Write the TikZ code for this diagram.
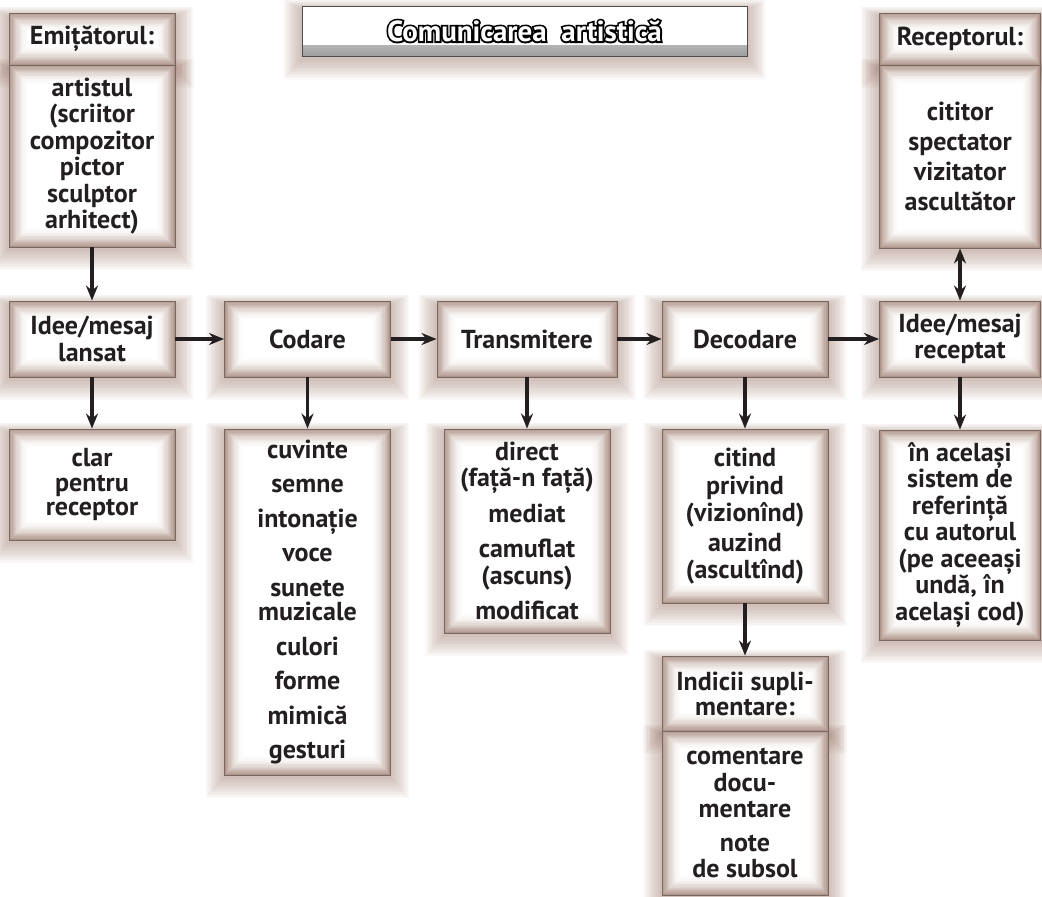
\documentclass[tikz,border=0pt]{standalone}
\usepackage{fontspec}
\setmainfont{PT Sans}
\usetikzlibrary{calc,backgrounds,arrows.meta}

\definecolor{glowbrown}{RGB}{176,148,137}
\definecolor{linegray}{RGB}{118,104,98}
\definecolor{shadebrown}{RGB}{140,98,82}
\definecolor{inkblack}{RGB}{35,31,32}

% outlined title letters: stroked copy under a white filled copy
\newcommand\hollowtext[1]{%
  \rlap{\special{pdf:literal direct 1 Tr 3.6 w 0 0 0 RG}#1\special{pdf:literal direct 0 Tr}}%
  \textcolor{white}{#1}}

\tikzset{
  box/.style={draw=linegray, line width=0.9pt, inner sep=0pt, align=center,
    text=inkblack, font=\fontsize{26}{26.5}\selectfont\bfseries,
    path picture={
      \foreach \i [evaluate=\i as \p using {int(100*(1-\i/17)^2)}] in {0,...,16}
        \fill[glowbrown!\p!white]
          ($(path picture bounding box.south west)+(\i*1.2pt,\i*1.2pt)$) rectangle
          ($(path picture bounding box.north east)-(\i*1.2pt,\i*1.2pt)$);
    }},
  titlebox/.style={draw=black!70, line width=1pt, fill=white, inner sep=0pt,
    font=\fontsize{29}{30}\selectfont\bfseries,
    path picture={
      \shade[top color=white, bottom color=black!38]
        (path picture bounding box.south west) rectangle
        ($(path picture bounding box.south east)+(0,11pt)$);
    }},
  arr/.style={->, line width=3.2pt, draw=inkblack},
}

\begin{document}
\begin{tikzpicture}[x=1pt, y=-1pt, >={Stealth[length=15pt,width=12pt]}]
    \useasboundingbox (0,0) rectangle (1042,897);

    % Title
    \node[titlebox, minimum width=445pt, minimum height=50pt] (title) at (524.5,31)
        {\hollowtext{Comunicarea\ \ artistică}};

    % Top boxes
    \node[box, minimum width=166pt, minimum height=52pt] (emith) at (92,39) {Emițătorul:};
    \node[box, minimum width=166pt, minimum height=182pt] (emitb) at (92,156)
        {artistul\\(scriitor\\compozitor\\pictor\\sculptor\\arhitect)};

    \node[box, minimum width=161pt, minimum height=52pt] (recvh) at (960,39) {Receptorul:};
    \node[box, minimum width=161pt, minimum height=183pt] (recvb) at (960,156.5)
        {cititor\\[3.5pt]spectator\\[3.5pt]vizitator\\[3.5pt]ascultător};

    % Main row
    \node[box, minimum width=166pt, minimum height=76pt] (lansat) at (92,339) {Idee/mesaj\\lansat};
    \node[box, minimum width=166pt, minimum height=76pt] (codare) at (307.5,339) {Codare};
    \node[box, minimum width=180pt, minimum height=76pt] (transm) at (527,339) {Transmitere};
    \node[box, minimum width=166pt, minimum height=76pt] (decod) at (745,339) {Decodare};
    \node[box, minimum width=161pt, minimum height=76pt] (recept) at (960,339) {Idee/mesaj\\receptat};

    % Details
    \node[box, minimum width=166pt, minimum height=111pt] (clar) at (92,484.5)
        {clar\\[-2pt]pentru\\[-2pt]receptor};
    \node[box, minimum width=166pt, minimum height=346pt] (cuvinte) at (307.5,602)
        {cuvinte\\[8pt]semne\\[8pt]intonație\\[8pt]voce\\[8pt]sunete\\[-2pt]muzicale\\[8pt]culori\\[8pt]forme\\[8pt]mimică\\[8pt]gesturi};
    \node[box, minimum width=166pt, minimum height=204pt] (direct) at (527,531)
        {direct\\(față-n față)\\[9pt]mediat\\[9pt]camuflat\\(ascuns)\\[9pt]modificat};
    \node[box, minimum width=166pt, minimum height=174pt] (citind) at (745,516)
        {citind\\[2pt]privind\\(vizionînd)\\[4pt]auzind\\(ascultînd)};
    \node[box, minimum width=161pt, minimum height=210pt] (acelasi) at (960,535)
        {în același\\sistem de\\referință\\cu autorul\\(pe aceeași\\undă, în\\același cod)};

    \node[box, minimum width=166pt, minimum height=75pt] (indh) at (745,693.5)
        {Indicii supli-\\[-1.5pt]mentare:};
    \node[box, minimum width=166pt, minimum height=164pt] (indb) at (745,813)
        {comentare\\docu-\\mentare\\[7pt]note\\de subsol};

    % Shadows
    \begin{scope}[on background layer]
      \foreach \n in {title,emith,emitb,recvh,recvb,lansat,codare,transm,decod,recept,
                      clar,cuvinte,direct,citind,acelasi,indh,indb}
        \foreach \i in {1,...,14}
          \fill[shadebrown, opacity=0.034]
            ($(\n.north west)+(-\i*1.3pt,\i*0.7pt-4pt)$) rectangle
            ($(\n.south east)+(\i*1.3pt,-\i*1.5pt-2pt)$);
    \end{scope}

    % Arrows
    \draw[arr] (emitb) -- (lansat);
    \draw[arr] (lansat) -- (codare);
    \draw[arr] (codare) -- (transm);
    \draw[arr] (transm) -- (decod);
    \draw[arr] (decod) -- (recept);
    \draw[arr, <->] (recvb) -- (recept);

    \draw[arr] (lansat) -- (clar);
    \draw[arr] (codare) -- (cuvinte);
    \draw[arr] (transm) -- (direct);
    \draw[arr] (decod) -- (citind);
    \draw[arr] (citind) -- (indh);
    \draw[arr] (recept) -- (acelasi);
\end{tikzpicture}
\end{document}
